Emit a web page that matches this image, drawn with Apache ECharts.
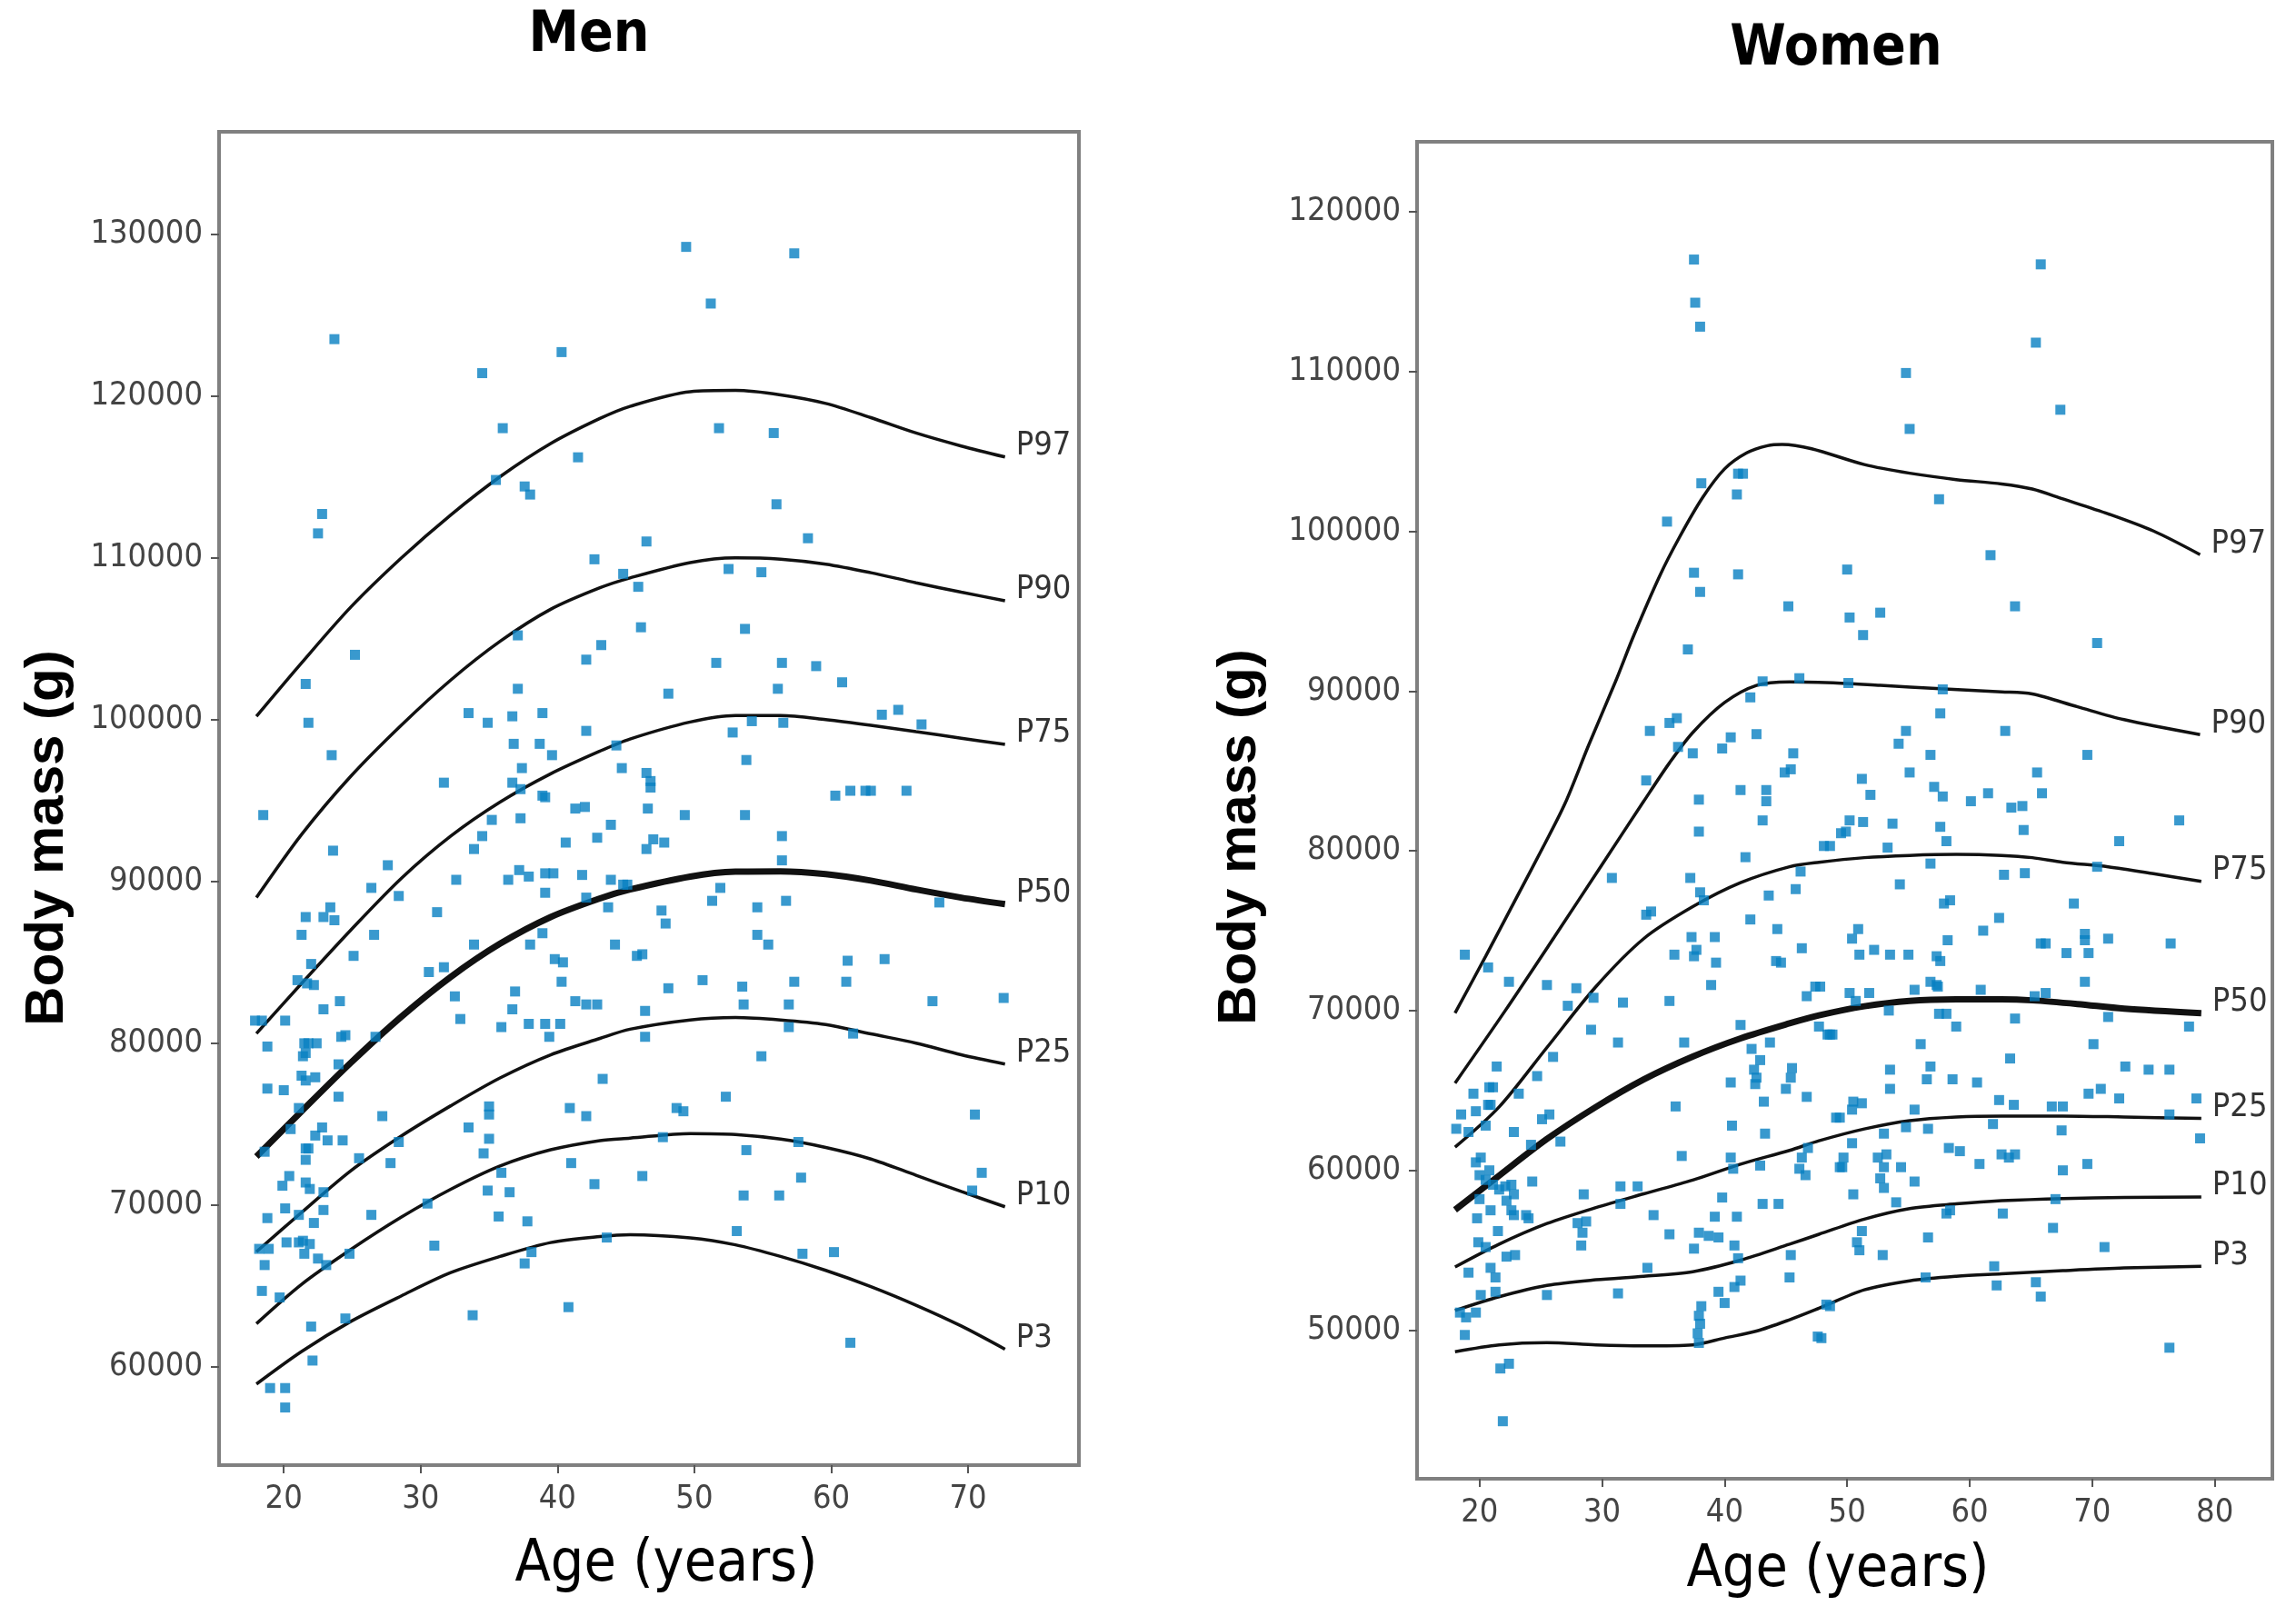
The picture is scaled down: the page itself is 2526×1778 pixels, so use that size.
<!DOCTYPE html>
<html>
<head>
<meta charset="utf-8">
<script src="https://cdn.jsdelivr.net/npm/echarts@6/dist/echarts.min.js"></script>
<style>html,body{margin:0;padding:0;background:#fff;}#c{width:2526px;height:1778px;}</style>
</head>
<body>
<div id="c"></div>
<script>
// ---------- DATA ----------
const xTicksMen = [20, 30, 40, 50, 60, 70];
const yTicksMen = [60000, 70000, 80000, 90000, 100000, 110000, 120000, 130000];
const xTicksWomen = [20, 30, 40, 50, 60, 70, 80];
const yTicksWomen = [50000, 60000, 70000, 80000, 90000, 100000, 110000, 120000];
const percentileNames = ['P97', 'P90', 'P75', 'P50', 'P25', 'P10', 'P3'];

const menCurveAges = [18, 21.3, 24.9, 28.6, 32.2, 35.8, 39.5, 43.1, 45.3, 49.7, 53.0, 56.3, 59.6, 62.9, 66.2, 69.5, 72.7];
const menP97 = [100200, 103500, 106950, 109990, 112640, 115000, 117050, 118600, 119350, 120250, 120330, 120060, 119530, 118650, 117700, 116900, 116220];
const menP90 = [89000, 92900, 96500, 99660, 102440, 104830, 106810, 108140, 108750, 109700, 109990, 109910, 109600, 109070, 108450, 107870, 107340];
const menP75 = [80600, 83700, 87000, 90200, 92800, 94900, 96650, 98050, 98800, 99850, 100250, 100250, 100000, 99650, 99250, 98850, 98460];
const menP50 = [73000, 75800, 78800, 81650, 84100, 86150, 87800, 88950, 89500, 90300, 90600, 90620, 90450, 90050, 89500, 89000, 88600];
const menP25 = [67120, 69550, 72130, 74280, 76140, 77860, 79290, 80300, 80870, 81445, 81590, 81445, 81160, 80580, 80010, 79290, 78720];
const menP10 = [62680, 65110, 67260, 69265, 70980, 72420, 73420, 73990, 74140, 74425, 74370, 74080, 73565, 72850, 71845, 70845, 69900];
const menP3  = [58950, 60960, 62820, 64400, 65830, 66830, 67690, 68065, 68180, 67980, 67550, 66830, 65970, 64970, 63820, 62535, 61100];

const womenP97 = [[18,69840],[20.5,73400],[22.9,76900],[25.3,80400],[27,83000],[28.9,86600],[31.1,90600],[32.6,93500],[34.7,97200],[36.3,99600],[38.2,102100],[40.0,103900],[41.8,104900],[43.5,105350],[44.7,105430],[47.1,105160],[51.4,104170],[55.1,103630],[58.9,103230],[62.6,102960],[65.1,102640],[67.6,102020],[71.3,101085],[75.0,100010],[78.8,98535]];
const womenP90 = [[18,65460],[22.1,70000],[26.1,74600],[30.0,79140],[33.4,83100],[35.5,85500],[37.4,87400],[40.0,89280],[42.6,90350],[45.3,90570],[49.5,90490],[52.7,90350],[57.6,90140],[62.6,89950],[65.1,89815],[68.8,89010],[72.6,88205],[78.8,87270]];
const womenP75 = [[18,61450],[21.6,63970],[25.5,67690],[29.5,71500],[33.4,74500],[37.4,76500],[41.3,78000],[45.3,79000],[47.7,79280],[51.4,79570],[55.1,79710],[58.9,79770],[62.6,79710],[65.1,79570],[67.6,79280],[71.3,79000],[75.0,78570],[78.9,78080]];
const womenP50 = [[18,57530],[21.6,59670],[25.5,61960],[29.5,63970],[33.4,65690],[37.4,67120],[41.3,68260],[45.3,69200],[47.7,69700],[51.4,70270],[55.1,70610],[58.9,70700],[62.6,70700],[65.1,70640],[68.8,70410],[72.6,70120],[78.9,69840]];
const womenP25 = [[18,53950],[21.6,55380],[25.5,56670],[29.5,57670],[33.4,58530],[37.4,59390],[41.3,60390],[45.3,61250],[47.7,61850],[51.4,62590],[55.1,63110],[58.9,63340],[62.6,63400],[67.6,63400],[72.6,63340],[78.9,63250]];
const womenP10 = [[18,51230],[21.6,52090],[25.5,52800],[29.5,53150],[33.4,53370],[37.4,53660],[41.3,54380],[45.3,55380],[47.7,56000],[51.4,56950],[55.1,57610],[58.9,57900],[62.6,58100],[67.6,58240],[72.6,58300],[78.9,58330]];
const womenP3  = [[18,48650],[21.6,49080],[25.5,49220],[29.5,49080],[33.4,49020],[37.4,49080],[40.0,49510],[42.6,49940],[45.3,50650],[47.7,51370],[51.4,52520],[55.1,53090],[58.9,53370],[62.6,53520],[67.6,53720],[72.6,53890],[78.9,54000]];

const menPoints = [
[23.7,123500],[34.5,121400],[40.3,122700],[36.0,118000],[41.5,116200],[35.5,114800],[37.6,114400],[38.0,113900],[22.8,112700],[22.5,111500],[46.5,111000],[42.7,109900],[44.8,109000],[45.9,108200],[46.1,105700],[43.2,104600],[42.1,103700],[37.1,105200],[25.2,104000],[21.6,102200],[37.1,101900],[21.8,99800],[33.5,100400],[34.9,99800],[36.7,100200],[38.9,100400],[42.1,99300],[36.8,98500],[38.7,98500],[39.6,97800],[23.5,97800],[37.4,97000],[44.3,98400],[44.7,97000],[46.5,96700],[31.7,96100],[36.7,96100],[37.3,95700],[38.9,95300],[46.8,95800],
[49.4,129200],[57.3,128800],[51.2,125700],[51.8,118000],[55.8,117700],[56.0,113300],[58.3,111200],[52.5,109300],[54.9,109100],[53.7,105600],[51.6,103500],[56.4,103500],[58.9,103300],[60.8,102300],[48.1,101600],[56.1,101900],[63.7,100300],[64.9,100600],[54.2,99900],[56.5,99800],[52.8,99200],[66.6,99700],[53.8,97500],[46.8,96200],[60.3,95300],[61.4,95600],[62.5,95600],[62.9,95600],[65.5,95600],
[18.5,94100],[23.6,91900],[39.1,95200],[37.3,93900],[35.2,93800],[34.5,92800],[33.9,92000],[41.3,94500],[42.0,94600],[40.6,92400],[42.9,92700],[43.9,93500],[46.6,94500],[46.5,92000],[47.0,92600],[27.6,91000],[26.4,89600],[28.4,89100],[32.6,90100],[36.4,90100],[37.2,90700],[37.9,90300],[39.1,90500],[39.7,90500],[39.1,89300],[41.8,90400],[42.1,89000],[43.9,90100],[44.8,89800],[45.1,89800],[43.7,88400],[23.4,88400],[22.9,87800],[23.7,87600],[21.6,87800],[21.3,86700],[26.6,86700],[31.2,88100],[33.9,86100],[38.0,86100],[38.9,86800],[44.2,86100],[45.8,85400],[46.2,85500],[25.1,85400],[22.0,84900],[21.0,83900],[21.7,83700],[22.2,83600],[30.6,84400],[31.7,84700],[39.8,85200],[40.4,85000],[40.3,83800],[32.5,82900],[36.9,83200],[36.7,82100],[22.9,82100],[24.1,82600],[41.3,82600],[42.1,82400],[42.9,82400],[46.4,82000],[17.9,81400],[18.4,81400],[20.1,81400],[32.9,81500],[35.9,81000],[37.9,81200],[39.1,81200],[40.2,81200],[39.4,80400],[46.4,80400],[18.8,79800],[21.5,80000],[21.8,80000],[22.4,80000],[24.2,80400],[24.5,80500],[26.7,80400],[21.4,79200],[21.6,79400],[24.0,78700],[43.3,77800],[21.3,78000],[21.6,77700],[22.3,77900],[18.8,77200],[20.0,77100],[24.0,76700],[21.1,76000],[35.0,76100],[35.0,75600],[40.9,76000],[42.1,75500],[27.2,75500],[33.5,74800],[20.5,74700],[22.8,74800],[22.3,74300],[23.2,74000],[24.3,74000],[35.0,74100],[28.4,73900],[18.6,73300],[21.6,73500],[21.8,73500],[21.6,72800],[25.5,72900],[34.6,73200],[27.8,72600],[41.0,72600],[35.9,72000],[46.2,71800],[42.7,71300],[20.4,71800],[19.9,71200],[21.6,71400],[21.9,71000],[22.9,70800],[34.9,70900],[36.5,70800],[30.5,70100],[20.1,69800],[22.9,69700],[21.1,69400],[18.8,69200],[26.4,69400],[35.7,69300],[37.8,69000],[22.2,68900],[20.2,67700],[21.1,67700],[21.4,67800],[21.9,67600],[18.2,67300],[18.9,67300],[21.5,67000],[24.8,67000],[31.0,67500],[22.5,66700],[23.1,66300],[18.6,66300],[37.6,66400],[38.1,67100],[43.6,68000],[18.4,64700],[19.7,64300],[40.8,63700],[33.8,63200],[24.5,63000],[22.0,62500],[22.1,60400],[19.0,58700],[20.1,58700],[20.1,57500],
[49.3,94100],[53.7,94100],[47.8,92400],[56.4,92800],[56.4,91300],[51.3,88800],[51.9,89600],[47.6,88200],[47.9,87400],[54.6,88400],[56.7,88800],[67.9,88700],[54.6,86700],[55.4,86100],[61.2,85100],[63.9,85200],[48.1,83400],[50.6,83900],[53.5,83500],[53.6,82400],[57.3,83800],[61.1,83800],[56.9,82400],[67.4,82600],[72.6,82800],[56.9,81000],[61.6,80600],[54.9,79200],[52.3,76700],[48.7,76000],[49.2,75800],[70.5,75600],[47.7,74200],[53.8,73400],[57.6,73900],[57.8,71700],[71.0,72000],[53.6,70600],[56.2,70600],[70.3,70900],[53.1,68400],[57.9,67000],[60.2,67100],[61.4,61500]
];

const womenPoints = [
[37.5,117000],[37.6,114300],[38.0,112800],[38.1,103000],[41.1,103600],[41.5,103600],[41.0,102300],[35.3,100600],[37.5,97400],[41.1,97300],[38.0,96200],[45.2,95300],[37.0,92600],[43.1,90600],[46.1,90800],[42.1,89600],[33.9,87500],[35.5,88000],[36.1,88300],[40.5,87100],[42.6,87300],[36.2,86500],[37.4,86100],[39.8,86400],[45.6,86100],[33.6,84400],[44.9,84900],[45.4,85100],[37.9,83200],[41.3,83800],[43.4,83800],[43.4,83100],
[65.8,116700],[65.4,111800],[54.8,109900],[67.4,107600],[55.1,106400],[57.5,102000],[61.7,98500],[50.0,97600],[50.2,94600],[52.7,94900],[51.3,93500],[63.7,95300],[70.4,93000],[50.1,90500],[57.8,90100],[57.6,88600],[54.8,87500],[54.2,86700],[62.9,87500],[56.8,86000],[69.6,86000],[51.2,84500],[51.9,83500],[55.1,84900],[65.5,84900],[57.1,84000],[57.8,83400],[60.1,83100],[61.5,83600],[65.9,83600],[63.4,82700],[64.3,82800],
[37.9,81200],[43.1,81900],[48.1,80300],[49.5,81100],[41.7,79600],[37.2,78300],[30.8,78300],[38.0,77400],[38.3,76900],[46.2,78700],[45.8,77600],[43.6,77200],[33.6,76000],[34.0,76200],[42.1,75700],[44.3,75100],[37.3,74600],[39.2,74600],[37.7,73800],[37.5,73400],[39.3,73000],[35.9,73500],[46.3,73900],[44.2,73100],[44.6,73000],[18.8,73500],[20.7,72700],[38.9,71600],[22.4,71800],[25.5,71600],[27.9,71400],[29.3,70800],[27.2,70300],[31.7,70500],[35.5,70600],[46.7,70900],[47.4,71500],[41.3,69100],[29.1,68800],[31.3,68000],[36.7,68000],[48.4,68500],[42.2,67600],[42.9,66900],[43.7,68000],[21.4,66500],[26.0,67100],[24.7,65900],[40.5,65500],[42.4,66300],[42.5,65400],[42.6,65800],[45.5,66400],[45.4,65800],[45.0,65100],[46.7,64600],[43.2,64300],[36.0,64000],[19.5,64800],[20.8,65200],[21.1,65200],[23.2,64800],[18.5,63500],[19.7,63700],[20.7,64100],[20.9,64100],[25.7,63500],[25.1,63200],[22.8,62400],[24.2,61600],[19.1,62400],[18.1,62600],[20.5,62800],[26.6,61800],[40.6,62800],[43.3,62300],[49.1,63300],[19.7,60500],[20.1,60800],[20.0,59700],[20.5,59400],[20.8,60000],[21.1,59100],[21.6,58800],[22.1,59000],[22.6,59100],[22.8,58500],[22.2,58100],[22.6,57500],[22.8,57200],[36.5,60900],[40.5,60800],[40.7,60100],[42.9,60300],[46.3,60800],[46.8,61400],[46.1,60100],[46.6,59700],[49.4,60200],[24.3,59300],[31.5,59000],[32.9,59000],[28.5,58500],[20.0,58200],[20.9,57500],[39.8,58300],[43.1,57900],[44.4,57900],[31.5,57900],[23.8,57200],[24.0,57000],[19.8,57000],[34.2,57200],[28.0,56700],[28.7,56800],[28.4,56100],[39.2,57100],[41.0,57100],[21.5,56200],[35.5,56000],[37.9,56100],[38.7,55900],[39.5,55800],[19.9,55500],[20.5,55200],[28.3,55300],[37.5,55100],[40.8,55300],[41.1,54500],[45.4,54700],[22.2,54600],[22.9,54700],[33.7,53900],[19.1,53600],[20.9,53900],[21.3,53300],[45.3,53300],[41.3,53100],[40.8,52700],[39.5,52400],[40.0,51700],[20.1,52200],[21.3,52400],[25.5,52200],[31.3,52300],[18.4,51100],[18.9,50800],[19.7,51100],[18.8,49700],[38.1,51500],[37.9,50900],[38.0,50400],[37.8,49800],[37.9,49200],[48.3,51600],[47.6,49600],[21.7,47600],[22.4,47900],[21.9,44300],
[50.2,81900],[49.9,81200],[51.3,81800],[53.7,81700],[57.6,81500],[58.1,80600],[48.6,80300],[53.3,80200],[64.4,81300],[72.2,80600],[77.1,81900],[56.8,79200],[62.8,78500],[64.5,78600],[70.4,79000],[54.3,77900],[57.9,76700],[58.4,76900],[68.5,76700],[62.4,75800],[50.9,75100],[50.4,74500],[61.1,75000],[52.2,73800],[51.0,73500],[53.5,73500],[55.0,73500],[57.3,73400],[57.6,73100],[58.2,74400],[65.8,74200],[66.2,74200],[67.9,73600],[69.4,74800],[69.4,74400],[69.7,73600],[71.3,74500],[76.4,74200],[47.8,71500],[50.2,71100],[50.7,70600],[51.8,71100],[55.5,71300],[56.8,71800],[57.3,71600],[57.4,71500],[60.9,71300],[66.2,71100],[65.3,70900],[69.4,71800],[53.4,70000],[57.5,69800],[58.1,69800],[58.9,69000],[63.7,69500],[71.3,69600],[77.9,69000],[47.7,69000],[48.6,68500],[48.8,68500],[56.0,67900],[70.1,67900],[63.3,67000],[53.5,66300],[53.5,65100],[56.8,66500],[56.5,65700],[58.6,65700],[60.6,65500],[72.7,66500],[74.6,66300],[76.3,66300],[69.7,64800],[70.7,65100],[72.2,64500],[78.5,64500],[50.5,64300],[51.2,64200],[50.4,63800],[49.4,63300],[55.5,63800],[62.4,64400],[63.6,64100],[66.7,64000],[67.6,64000],[76.3,63500],[54.8,62700],[56.6,62600],[61.9,62900],[53.0,62300],[67.5,62500],[50.4,61700],[78.8,62000],[58.3,61400],[59.2,61200],[49.7,60800],[49.6,60200],[52.5,60800],[53.2,61000],[53.0,60200],[54.4,60200],[62.6,61000],[63.2,60800],[63.7,61000],[60.8,60400],[67.6,60000],[69.6,60400],[52.7,59500],[53.0,58900],[55.5,59300],[50.5,58500],[54.0,58000],[58.1,57300],[58.4,57500],[62.7,57300],[67.0,58200],[66.8,56400],[51.2,56200],[50.8,55500],[51.0,55000],[52.9,54700],[56.6,55800],[71.0,55200],[62.0,54000],[56.4,53300],[62.2,52800],[65.4,53000],[65.8,52100],[48.6,51500],[47.9,49500],[76.3,48900]
];

// ---------- CHART ----------
const NARROW = "'Liberation Sans Narrow', 'DejaVu Sans Condensed', 'Liberation Sans', sans-serif";
const tickColor = '#444';
const chart = echarts.init(document.getElementById('c'), null, {renderer: 'canvas', width: 2526, height: 1778});

function axisDef(gi, min, max, ticks, margin) {
  return {
    gridIndex: gi, type: 'value', min: min, max: max,
    axisLine: {show: false}, splitLine: {show: false},
    axisTick: {show: true, length: 9, lineStyle: {color: '#555', width: 2}, customValues: ticks},
    axisLabel: {show: true, customValues: ticks, margin: margin, fontSize: 36, color: tickColor, fontFamily: NARROW,
      formatter: function (v) { return String(v); }}
  };
}

const menCurves = [menP97, menP90, menP75, menP50, menP25, menP10, menP3];
const womenCurves = [womenP97, womenP90, womenP75, womenP50, womenP25, womenP10, womenP3];

function curveSeries(xi, data, i) {
  return {
    type: 'line', xAxisIndex: xi, yAxisIndex: xi, smooth: 0.3, showSymbol: false, silent: true, z: 3,
    data: data,
    lineStyle: {color: '#111', width: percentileNames[i] === 'P50' ? 7 : 3.5},
    endLabel: {show: true, formatter: percentileNames[i], color: '#333', fontSize: 36, fontFamily: NARROW, offset: [4, -12]}
  };
}

const series = [];
menCurves.forEach(function (vals, i) {
  series.push(curveSeries(0, menCurveAges.map(function (a, k) { return [a, vals[k]]; }), i));
});
womenCurves.forEach(function (pairs, i) {
  series.push(curveSeries(1, pairs, i));
});
series.push({type: 'scatter', xAxisIndex: 0, yAxisIndex: 0, data: menPoints, symbol: 'rect', symbolSize: 11, itemStyle: {color: '#0880c2'}, z: 5, silent: true});
series.push({type: 'scatter', xAxisIndex: 1, yAxisIndex: 1, data: womenPoints, symbol: 'rect', symbolSize: 11, itemStyle: {color: '#0880c2'}, z: 5, silent: true});

function txt(x, y, s, font, rot) {
  const el = {type: 'text', x: x, y: y, style: {text: s, fill: '#000', align: 'center', verticalAlign: 'middle', font: font}};
  if (rot) el.rotation = rot;
  return el;
}

const option = {
  animation: false,
  backgroundColor: '#fff',
  grid: [
    {left: 241, top: 145, width: 946, height: 1467, show: true, borderColor: '#808080', borderWidth: 4, backgroundColor: '#fff'},
    {left: 1559, top: 156, width: 941, height: 1471, show: true, borderColor: '#808080', borderWidth: 4, backgroundColor: '#fff'}
  ],
  xAxis: [axisDef(0, 15.27, 78.1, xTicksMen, 20), axisDef(1, 14.9, 84.7, xTicksWomen, 20)],
  yAxis: [axisDef(0, 53940, 136310, yTicksMen, 18), axisDef(1, 40700, 124370, yTicksWomen, 18)],
  series: series,
  graphic: [
    txt(648, 40, 'Men', 'bold 62px ' + NARROW),
    txt(2020, 55, 'Women', 'bold 62px ' + NARROW),
    txt(733, 1722, 'Age (years)', '64px ' + NARROW),
    txt(2022, 1728, 'Age (years)', '64px ' + NARROW),
    txt(52, 922, 'Body mass (g)', 'bold 60px "Liberation Sans", Arial, sans-serif', Math.PI / 2),
    txt(1364, 921, 'Body mass (g)', 'bold 60px "Liberation Sans", Arial, sans-serif', Math.PI / 2)
  ]
};
chart.setOption(option);
</script>
</body>
</html>
